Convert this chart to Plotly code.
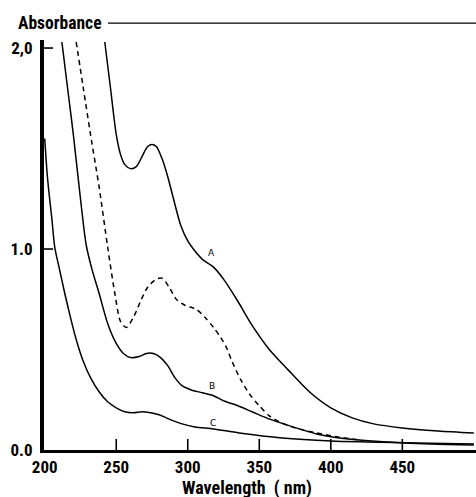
import plotly.graph_objects as go

# ---- data ----
a_nm = [242, 246, 250, 253, 256, 260, 264, 268, 272, 275, 278, 282, 286, 290, 295, 300, 305,
        310, 318, 325, 335, 345, 357, 370, 385, 400, 415, 430, 450, 475, 500]
a_abs = [2.03, 1.80, 1.57, 1.47, 1.42, 1.40, 1.41, 1.46, 1.51, 1.52, 1.51, 1.45, 1.36, 1.25,
         1.12, 1.04, 0.99, 0.95, 0.91, 0.85, 0.74, 0.62, 0.50, 0.40, 0.29, 0.21, 0.16, 0.13,
         0.11, 0.095, 0.085]

d_nm = [222, 227, 232, 238, 244, 249, 253, 257, 262, 267, 272, 278, 282, 287, 292, 298, 306,
        312, 318, 323, 327, 331, 337, 343, 350, 357, 364, 375, 390, 405, 420]
d_abs = [2.03, 1.80, 1.57, 1.31, 1.01, 0.78, 0.64, 0.61, 0.66, 0.74, 0.81, 0.85, 0.855, 0.81,
         0.75, 0.72, 0.70, 0.66, 0.61, 0.56, 0.51, 0.44, 0.35, 0.28, 0.22, 0.17, 0.14, 0.11,
         0.085, 0.065, 0.05]

b_nm = [212, 216, 220, 225, 229, 233, 238, 244, 250, 255, 260, 266, 271, 276, 281, 286, 291,
        296, 302, 310, 318, 325, 335, 345, 355, 365, 378, 390, 401, 420, 440, 470, 500]
b_abs = [2.03, 1.80, 1.57, 1.25, 1.02, 0.90, 0.78, 0.63, 0.53, 0.48, 0.46, 0.465, 0.48, 0.48,
         0.46, 0.42, 0.36, 0.32, 0.30, 0.285, 0.27, 0.245, 0.22, 0.19, 0.16, 0.135, 0.105,
         0.08, 0.065, 0.05, 0.04, 0.03, 0.025]

c_nm = [200, 202, 205, 207, 210, 214, 218, 222, 227, 232, 238, 244, 250, 256, 262, 268, 274,
        280, 285, 290, 296, 305, 318, 336, 366, 400, 425, 460, 500]
c_abs = [1.55, 1.35, 1.15, 1.01, 0.91, 0.78, 0.66, 0.55, 0.44, 0.36, 0.29, 0.24, 0.21, 0.19,
         0.185, 0.19, 0.185, 0.175, 0.16, 0.145, 0.13, 0.115, 0.105, 0.085, 0.06, 0.045, 0.04,
         0.035, 0.03]

curve_labels = ["A", "B", "C"]
label_nm = [316.8, 316.8, 317.5]
label_abs = [0.98, 0.32, 0.135]

x_ticks = [200, 250, 300, 350, 400, 450]
y_ticks = [0, 1, 2]
y_ticktext = ["0.0", "1.0", "2,0"]

X_RANGE = [199.5, 501.5]
Y_RANGE = [0, 2.04]

FONT = "Roboto Condensed, DejaVu Sans Condensed, sans-serif"

fig = go.Figure()
line = dict(color="black", width=1.5, shape="spline", smoothing=0.8)
for xs, ys in [(a_nm, a_abs), (b_nm, b_abs), (c_nm, c_abs)]:
    fig.add_trace(go.Scatter(x=xs, y=ys, mode="lines", line=line, showlegend=False,
                             hoverinfo="skip"))
fig.add_trace(go.Scatter(x=d_nm, y=d_abs, mode="lines",
                         line=dict(color="black", width=1.5, dash="5px,4px",
                                   shape="spline", smoothing=0.8),
                         showlegend=False, hoverinfo="skip"))

# inner tick marks built from the tick value lists (lengths as fractions of the ranges)
xt_len = 0.027 * (Y_RANGE[1] - Y_RANGE[0])
yt_len = 0.021 * (X_RANGE[1] - X_RANGE[0])
tx, ty = [], []
for tv in x_ticks[1:]:
    tx += [tv, tv, None]
    ty += [Y_RANGE[0], Y_RANGE[0] + xt_len, None]
for tv in y_ticks[1:]:
    tx += [X_RANGE[0], X_RANGE[0] + yt_len, None]
    ty += [tv, tv, None]
fig.add_trace(go.Scatter(x=tx, y=ty, mode="lines", line=dict(color="black", width=1.6),
                         showlegend=False, hoverinfo="skip", cliponaxis=False))

for t, xv, yv in zip(curve_labels, label_nm, label_abs):
    fig.add_annotation(x=xv, y=yv, text=t, showarrow=False, xanchor="center",
                       yanchor="middle",
                       font=dict(family="DejaVu Sans", size=9, color="black", weight="normal"))

fig.add_annotation(xref="paper", yref="paper", x=-0.065, y=1.041, text="Absorbance",
                   showarrow=False, xanchor="left", yanchor="middle",
                   font=dict(family=FONT, size=17.5, color="black", weight="bold"))
fig.add_shape(type="line", xref="paper", yref="paper", x0=0.148, x1=1.0, y0=1.041, y1=1.041,
              line=dict(color="black", width=1.2))
fig.add_annotation(xref="paper", yref="paper", x=(247 - 44) / 432, y=-0.093,
                   text="Wavelength  ( nm)", showarrow=False, xanchor="center",
                   yanchor="middle",
                   font=dict(family=FONT, size=18, color="black", weight="bold"))

fig.update_layout(
    width=476, height=497,
    margin=dict(l=44, r=0, t=40, b=47),
    paper_bgcolor="white", plot_bgcolor="white",
    font=dict(family=FONT, size=17, color="black", weight="bold"),
    xaxis=dict(range=X_RANGE, tickvals=x_ticks, ticks="", showline=True,
               linecolor="black", linewidth=3, showgrid=False, zeroline=False,
               fixedrange=True),
    yaxis=dict(range=Y_RANGE, tickvals=y_ticks, ticktext=y_ticktext, ticks="",
               showline=True, linecolor="black", linewidth=4, showgrid=False,
               zeroline=False, fixedrange=True, ticklabelstandoff=4),
)

fig.write_html("out.html", config={"displayModeBar": False},
               post_script="document.body.style.margin='0';")
